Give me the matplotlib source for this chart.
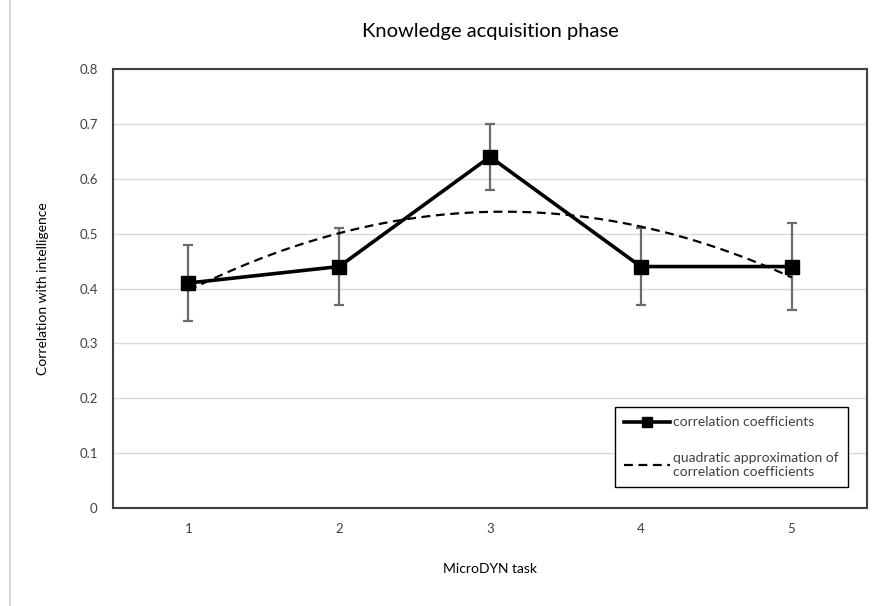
import matplotlib
matplotlib.use("Agg")
import matplotlib.pyplot as plt
import numpy as np
from matplotlib.lines import Line2D

# data
tasks = [1, 2, 3, 4, 5]
corr = [0.41, 0.44, 0.64, 0.44, 0.44]
err_lo = [0.34, 0.37, 0.58, 0.37, 0.36]
err_hi = [0.48, 0.51, 0.70, 0.51, 0.52]
y_ticks = [0, 0.1, 0.2, 0.3, 0.4, 0.5, 0.6, 0.7, 0.8]
y_tick_labels = ["0", "0.1", "0.2", "0.3", "0.4", "0.5", "0.6", "0.7", "0.8"]

plt.rcParams["font.family"] = ["Lato", "DejaVu Sans"]

fig = plt.figure(figsize=(8.77, 6.06), dpi=100)
ax = fig.add_axes([113 / 877, 98 / 606, 754 / 877, 439 / 606])

# light frame line at the left edge of the figure
fig.add_artist(Line2D([10 / 877, 10 / 877], [0, 1], color="#d9d9d9", lw=1.5,
                      transform=fig.transFigure))

x = np.array(tasks, dtype=float)
y = np.array(corr)
lo = y - np.array(err_lo)
hi = np.array(err_hi) - y

# quadratic approximation of the coefficients
coef = np.polyfit(x, y, 2)
xs = np.linspace(1, 5, 200)
ax.plot(xs, np.polyval(coef, xs), color="black", lw=1.6, ls=(0, (4, 2.5)),
        zorder=3)

ax.errorbar(x, y, yerr=[lo, hi], fmt="none", ecolor="#6b6b6b", elinewidth=1.6,
            capsize=3.5, capthick=1.6, zorder=2)
ax.plot(x, y, color="black", lw=2.6, marker="s", markersize=10, zorder=4)

ax.set_xlim(0.5, 5.5)
ax.set_ylim(0, 0.8)
ax.set_xticks(tasks)
ax.set_yticks(y_ticks)
ax.set_yticklabels(y_tick_labels)
ax.tick_params(length=0, labelsize=9.5, colors="#404040")
ax.tick_params(axis="x", pad=11)
ax.tick_params(axis="y", pad=11)
ax.grid(axis="y", color="#d9d9d9", lw=1)
ax.set_axisbelow(True)
for sp in ax.spines.values():
    sp.set_color("#404040")
    sp.set_linewidth(1.5)

ax.set_xlabel("MicroDYN task", fontsize=10, labelpad=20)
ax.set_ylabel("Correlation with intelligence", fontsize=10, labelpad=22)
ax.set_title("Knowledge acquisition phase", fontsize=14.5, pad=23)

handles = [
    Line2D([], [], color="black", lw=2.6, marker="s", markersize=7),
    Line2D([], [], color="black", lw=1.6, ls=(0, (4, 2.5))),
]
labels = ["correlation coefficients",
          "quadratic approximation of\ncorrelation coefficients"]
leg = ax.legend(handles, labels, loc="lower right",
                bbox_to_anchor=(0.984, 0.032), fontsize=10,
                frameon=True, fancybox=False, edgecolor="black",
                framealpha=1, labelspacing=1.7, handlelength=3.3,
                handletextpad=0.25, borderpad=0.65)
leg.get_frame().set_linewidth(1.0)
for t in leg.get_texts():
    t.set_color("#404040")

fig.savefig("out.png", dpi=100)
